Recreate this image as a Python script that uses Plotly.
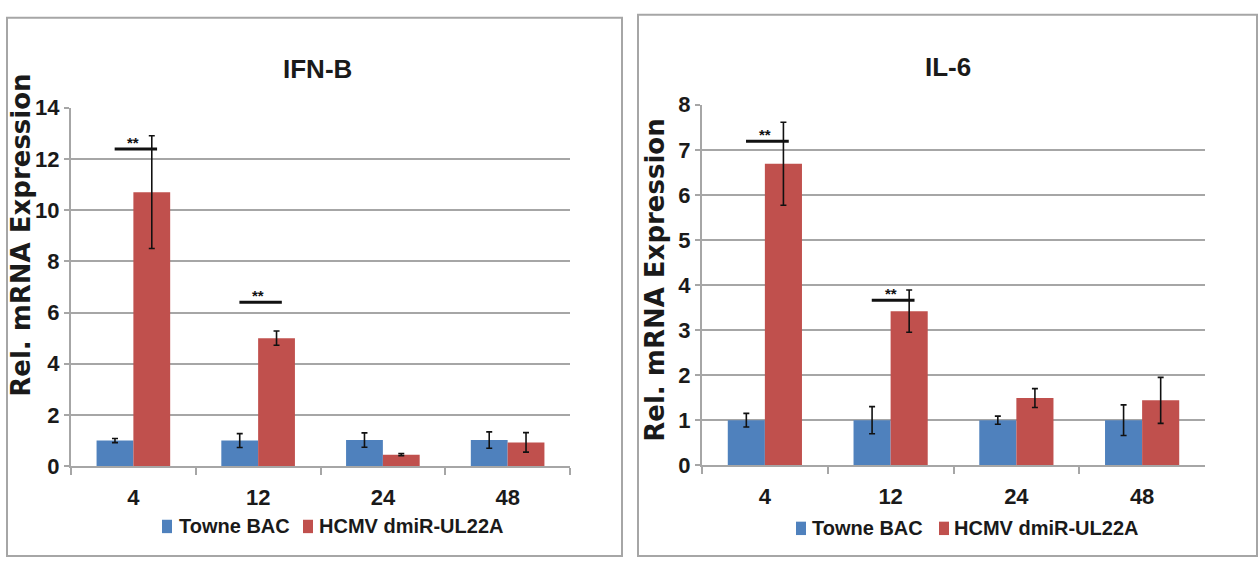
import plotly.graph_objects as go

# ---------------- data ----------------
hours = ["4", "12", "24", "48"]
series_names = ["Towne BAC", "HCMV dmiR-UL22A"]

ifnb_towne = [1.0, 1.0, 1.02, 1.02]
ifnb_towne_err = [0.08, 0.27, 0.28, 0.32]
ifnb_hcmv = [10.7, 5.0, 0.45, 0.93]
ifnb_hcmv_err = [2.2, 0.28, 0.04, 0.38]
ifnb_sig_cats = [0, 1]
ifnb_sig_y = [12.38, 6.4]

il6_towne = [1.0, 1.0, 1.0, 1.0]
il6_towne_err = [0.15, 0.3, 0.09, 0.34]
il6_hcmv = [6.69, 3.42, 1.49, 1.44]
il6_hcmv_err = [0.92, 0.47, 0.21, 0.51]
il6_sig_cats = [0, 1]
il6_sig_y = [7.19, 3.66]

titles = ["IFN-B", "IL-6"]
y_title = "Rel. mRNA Expression"
ifnb_yticks = [0, 2, 4, 6, 8, 10, 12, 14]
il6_yticks = [0, 1, 2, 3, 4, 5, 6, 7, 8]
sig_label = "**"

# ---------------- style ----------------
BLUE = "#4F81BD"
RED = "#C0504D"
GRID = "#A6A6A6"
FONT = "Liberation Sans, Arial, sans-serif"
YFONT = "DejaVu Sans, Liberation Sans, sans-serif"
TXT = "#1a1a1a"

W, H = 1259, 571

fig = go.Figure()

panels = [
    dict(towne=ifnb_towne, te=ifnb_towne_err, hcmv=ifnb_hcmv, he=ifnb_hcmv_err,
         sig_c=ifnb_sig_cats, sig_y=ifnb_sig_y, yt=ifnb_yticks,
         xd=(71 / W, 570 / W), yd=(1 - 475 / H, 1 - 100 / H),
         box=(7, 6, 622, 569), title_xy=(317, 60), ytitle_xy=(21, 234),
         leg=[(162, 177), (303, 317)], leg_y=538),
    dict(towne=il6_towne, te=il6_towne_err, hcmv=il6_hcmv, he=il6_hcmv_err,
         sig_c=il6_sig_cats, sig_y=il6_sig_y, yt=il6_yticks,
         xd=(702 / W, 1205 / W), yd=(1 - 474 / H, 1 - 97 / H),
         box=(638, 3, 1257, 569), title_xy=(948, 57), ytitle_xy=(655, 281),
         leg=[(796, 810), (939, 952)], leg_y=540),
]

shapes = []
annotations = []

for k, p in enumerate(panels):
    xa = "x" if k == 0 else "x2"
    ya = "y" if k == 0 else "y2"
    for vals, errs, col, name in [(p["towne"], p["te"], BLUE, series_names[0]),
                                   (p["hcmv"], p["he"], RED, series_names[1])]:
        fig.add_trace(go.Bar(
            x=hours, y=vals, name=name, marker=dict(color=col, line=dict(width=0)),
            error_y=dict(type="data", array=errs, visible=True, color="#111111",
                         thickness=1.6, width=3),
            xaxis=xa, yaxis=ya, showlegend=False,
        ))
    axn = "" if k == 0 else "2"
    fig.update_layout(**{
        f"xaxis{axn}": dict(
            domain=list(p["xd"]), anchor=ya, type="category",
            showline=True, linecolor=GRID, linewidth=2,
            ticks="outside", tickson="boundaries", ticklen=7, tickcolor=GRID, tickwidth=2,
            ticklabelstandoff=10,
            tickfont=dict(family=FONT, size=22, color=TXT, weight="bold"),
            showgrid=False, fixedrange=True,
        ),
        f"yaxis{axn}": dict(
            domain=list(p["yd"]), anchor=xa,
            range=[0, p["yt"][-1]], tickvals=p["yt"],
            showline=True, linecolor=GRID, linewidth=2,
            ticks="outside", ticklen=5, tickcolor=GRID, tickwidth=2,
            showgrid=True, gridcolor=GRID, gridwidth=2.2,
            zeroline=False,
            tickfont=dict(family=FONT, size=22, color=TXT, weight="bold"),
            fixedrange=True,
        ),
    })
    for c, yv in zip(p["sig_c"], p["sig_y"]):
        shapes.append(dict(type="line", xref=xa, yref=ya,
                           x0=c - 0.15, x1=c + 0.19, y0=yv, y1=yv,
                           line=dict(color="#111111", width=3)))
        annotations.append(dict(xref=xa, yref=ya, x=c, y=yv, text=sig_label,
                                showarrow=False, yanchor="bottom", yshift=-4,
                                font=dict(family=FONT, size=15, color="#111111",
                                          weight="bold")))
    x0, y0, x1, y1 = p["box"]
    shapes.append(dict(type="rect", xref="paper", yref="paper",
                       x0=x0 / W, x1=x1 / W, y0=1 - y1 / H, y1=1 - y0 / H,
                       line=dict(color=GRID, width=2), fillcolor="rgba(0,0,0,0)",
                       layer="below"))
    tx, ty = p["title_xy"]
    annotations.append(dict(xref="paper", yref="paper", x=tx / W, y=1 - ty / H,
                            xanchor="center", yanchor="middle",
                            text=titles[k], showarrow=False,
                            font=dict(family=FONT, size=26, color=TXT, weight="bold")))
    yx, yy = p["ytitle_xy"]
    annotations.append(dict(xref="paper", yref="paper", x=yx / W, y=1 - yy / H,
                            xanchor="center", yanchor="middle",
                            text=y_title, textangle=-90, showarrow=False,
                            font=dict(family=YFONT, size=26, color=TXT, weight="bold")))
    for (sq_x, tx_x), nm, col in zip(p["leg"], series_names, [BLUE, RED]):
        ly = p["leg_y"]
        shapes.append(dict(type="rect", xref="paper", yref="paper",
                           x0=sq_x / W, x1=(sq_x + 10) / W,
                           y0=1 - (ly + 7) / H, y1=1 - (ly - 7) / H,
                           fillcolor=col, line=dict(width=0)))
        annotations.append(dict(xref="paper", yref="paper", x=tx_x / W,
                                y=1 - ly / H, xanchor="left", yanchor="middle",
                                text=nm, showarrow=False,
                                font=dict(family=FONT, size=20, color=TXT, weight="bold")))

fig.update_layout(
    width=W, height=H, autosize=False,
    margin=dict(l=0, r=0, t=0, b=0),
    paper_bgcolor="white", plot_bgcolor="white",
    barmode="group", bargap=0.41, bargroupgap=0,
    shapes=shapes, annotations=annotations,
    showlegend=False,
)

fig.write_html("out.html",
               config={"displayModeBar": False, "responsive": False},
               post_script="document.body.style.margin='0px';document.body.style.overflow='hidden';")
